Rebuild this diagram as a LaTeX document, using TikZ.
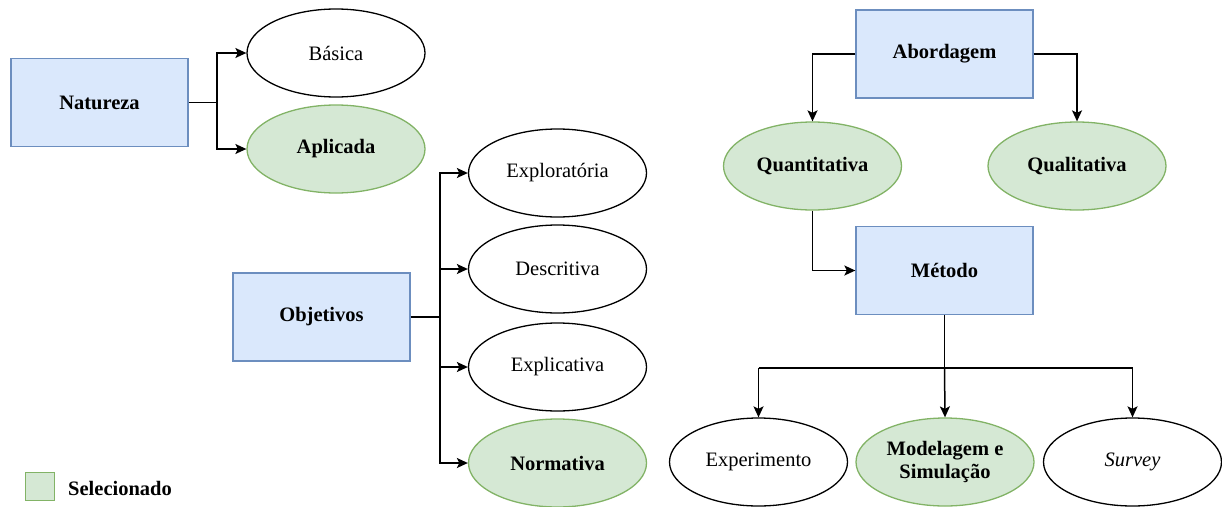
\documentclass[tikz,border=0pt]{standalone}
\usepackage{fontspec}
\setmainfont{Liberation Serif}
\usetikzlibrary{shapes.geometric,arrows.meta}
\definecolor{bluefill}{HTML}{DAE8FC}
\definecolor{blueline}{HTML}{6C8EBF}
\definecolor{greenfill}{HTML}{D5E8D4}
\definecolor{greenline}{HTML}{82B366}
\tikzset{
  lbl/.style={font=\fontsize{20.5}{23}\selectfont},
  blbl/.style={font=\fontsize{20.5}{23}\selectfont\bfseries},
  box/.style={draw=blueline, fill=bluefill, line width=1.3pt, minimum width=177pt, minimum height=88pt, inner sep=0pt, blbl},
  opt/.style={ellipse, draw=black, line width=1.3pt, minimum width=178pt, minimum height=88pt, inner sep=0pt, lbl},
  sel/.style={ellipse, draw=greenline, fill=greenfill, line width=1.3pt, minimum width=178pt, minimum height=88pt, inner sep=0pt, align=center, blbl},
  link/.style={line width=1.5pt},
  arr/.style={line width=1.5pt, -{Stealth[length=11pt,width=10pt,inset=2.5pt]}},
}
\begin{document}
\begin{tikzpicture}[x=1pt,y=-1pt]
\useasboundingbox (0,0) rectangle (1222,506);

% Natureza
\node[box] (nat) at (99.5,102.5) {Natureza};
\node[opt] (bas) at (336,53) {Básica};
\node[sel] (apl) at (336,149) {Aplicada};
\coordinate (nj) at (217,102.5);
\draw[link] (nat.east) -- (nj);
\draw[arr] (nj) |- (bas.west);
\draw[arr] (nj) |- (apl.west);

% Objetivos
\node[box] (obj) at (321.5,317) {Objetivos};
\node[opt] (exp) at (557.5,173) {Exploratória};
\node[opt] (des) at (557.5,269) {Descritiva};
\node[opt] (exl) at (557.5,367) {Explicativa};
\node[sel] (nor) at (557.5,463) {Normativa};
\coordinate (oj) at (440,317);
\draw[link] (obj.east) -- (oj);
\draw[arr] (oj) |- (exp.west);
\draw[arr] (oj) |- (des.west);
\draw[arr] (oj) |- (exl.west);
\draw[arr] (oj) |- (nor.west);

% Abordagem
\node[box] (abo) at (944.5,54) {Abordagem};
\node[sel] (qnt) at (812.5,166) {Quantitativa};
\node[sel] (qlt) at (1077,166) {Qualitativa};
\draw[arr] (abo.west) -| (qnt.north);
\draw[arr] (abo.east) -| (qlt.north);

% Método
\node[box] (met) at (944.5,270.5) {Método};
\draw[arr] (qnt.south) |- (met.west);
\node[opt] (epe) at (758.5,462) {Experimento};
\node[sel] (mod) at (945,462) {Modelagem e\\Simulação};
\node[opt] (sur) at (1132.5,462) {\itshape Survey};
\coordinate (mj) at (944.5,368);
\draw[link] (met.south) -- (mj);
\draw[link] (mj -| epe.north) -- (mj -| sur.north);
\draw[arr] (mj -| epe.north) -- (epe.north);
\draw[arr] (mj) -- (mod.north);
\draw[arr] (mj -| sur.north) -- (sur.north);

% Legend
\node[draw=greenline, fill=greenfill, line width=1.3pt, minimum width=29pt, minimum height=28pt, inner sep=0pt] (leg) at (40,486.5) {};
\node[anchor=west, inner sep=0pt, blbl] (legt) at (68,488) {Selecionado};
\end{tikzpicture}
\end{document}
